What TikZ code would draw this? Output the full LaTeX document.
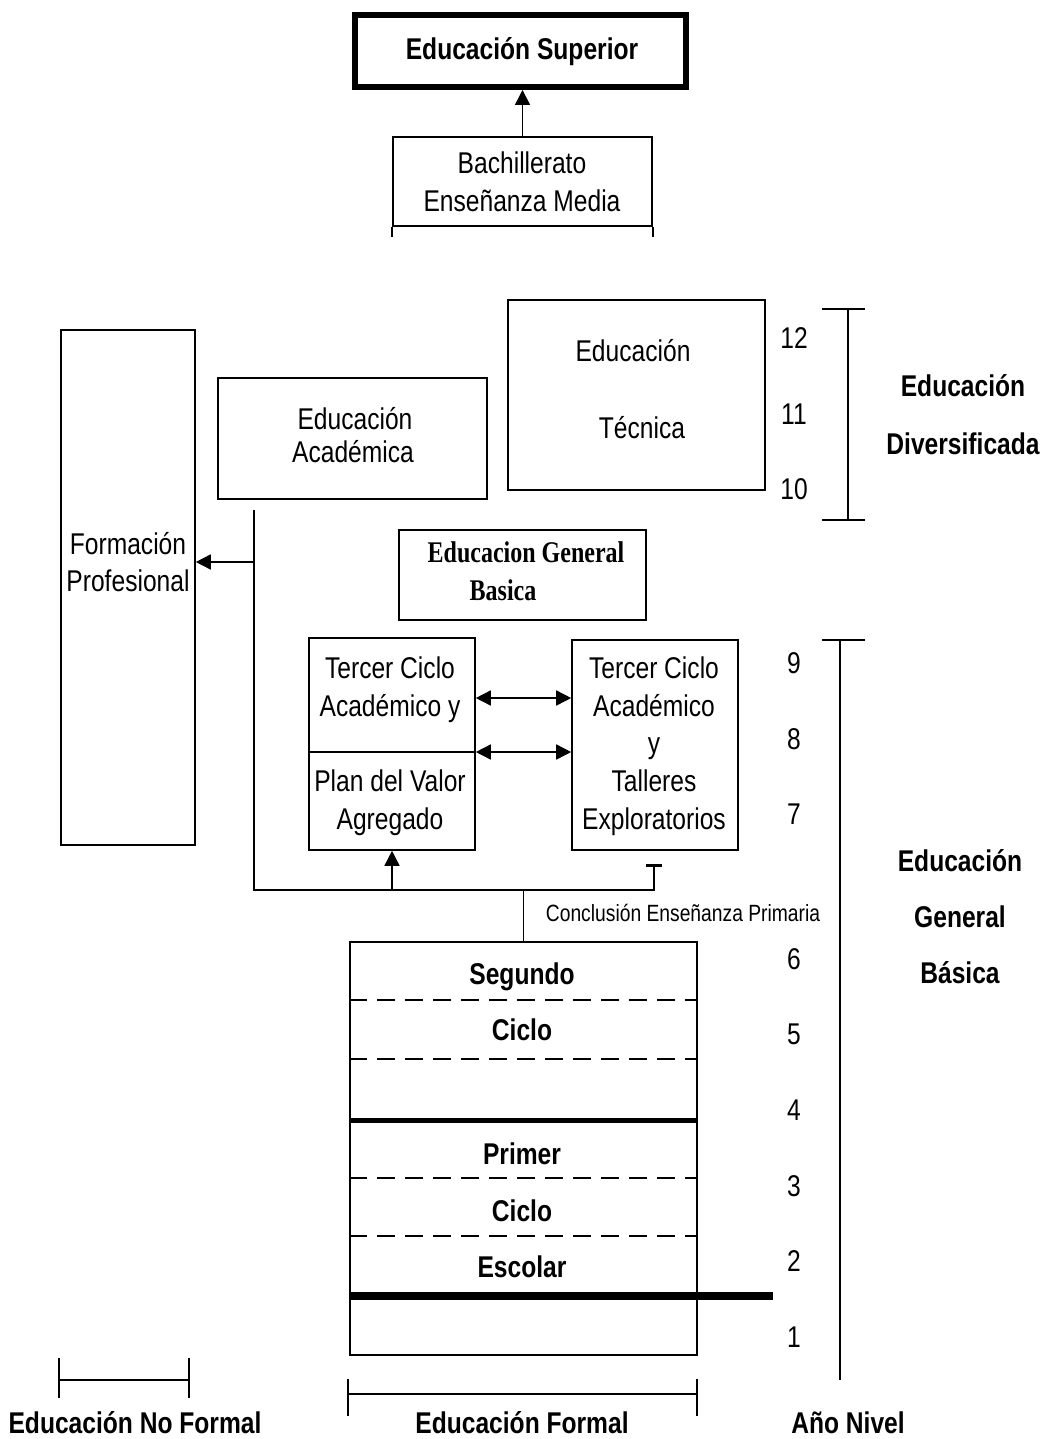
\documentclass[tikz,border=0pt]{standalone}
\usepackage{fontspec}
\setmainfont{Liberation Sans}
\newfontfamily\narrowsans[FakeStretch=0.82]{Liberation Sans}
\newfontfamily\narrowserif[FakeStretch=0.8]{Liberation Serif}
\usetikzlibrary{positioning,arrows.meta,calc}

\begin{document}
\begin{tikzpicture}[x=1pt,y=-1pt,
                box/.style={draw,line width=1.6pt,inner sep=0pt},
                lbl/.style={inner sep=0pt,text height=22pt,text depth=0pt,
                            font=\narrowsans\fontsize{30}{34}\selectfont},
                blbl/.style={lbl,font=\narrowsans\bfseries\fontsize{30}{34}\selectfont},
                slbl/.style={inner sep=0pt,text height=17pt,text depth=0pt,
                             font=\narrowsans\fontsize{23.5}{26}\selectfont},
                serlbl/.style={lbl,font=\narrowserif\bfseries\fontsize{30}{34}\selectfont},
                ln/.style={line width=1.6pt},
                arr/.style={-{Triangle[length=15pt,width=15pt]},line width=1.6pt},
                darr/.style={{Triangle[length=15pt,width=15pt]}-{Triangle[length=15pt,width=15pt]},
                             line width=1.6pt},
                dsh/.style={line width=1.6pt,dash pattern=on 18pt off 10pt}]
\useasboundingbox (0,0) rectangle (1046,1439);

% boxes
\node[box,line width=6pt,minimum width=331,minimum height=72] (sup) at (520.5,51) {};
\node[box,minimum width=259,minimum height=89] (bach) at (522.5,181.5) {};
\node[box,minimum width=257,minimum height=190] (tec) at (636.5,395) {};
\node[box,minimum width=269,minimum height=121] (aca) at (352.5,438.5) {};
\node[box,minimum width=134,minimum height=515] (fp) at (128,587.5) {};
\node[box,minimum width=247,minimum height=90] (egb) at (522.5,575) {};
\node[box,minimum width=166,minimum height=212] (tca) at (392,744) {};
\node[box,minimum width=166,minimum height=210] (tct) at (655,745) {};
\node[box,minimum width=347,minimum height=413] (prim) at (523.5,1148.5) {};

% texts
\node[blbl] (t-sup) at (522,49) {Educación Superior};
\node[lbl] (t-bach1) at (522,163) {Bachillerato};
\node[lbl] (t-bach2) at (522,201) {Enseñanza Media};
\node[lbl] (t-tec1) at (633,350) {Educación};
\node[lbl] (t-tec2) at (642,427) {Técnica};
\node[lbl] (t-aca1) at (355,418) {Educación};
\node[lbl] (t-aca2) at (353,451) {Académica};
\node[lbl] (t-fp1) at (128,543) {Formación};
\node[lbl] (t-fp2) at (128,580) {Profesional};
\node[serlbl] (t-egb1) at (526,551) {Educacion General};
\node[serlbl] (t-egb2) at (503,589) {Basica};
\node[lbl] (t-tca1) at (390,667) {Tercer Ciclo};
\node[lbl] (t-tca2) at (390,705) {Académico y};
\node[lbl] (t-tca3) at (390,780) {Plan del Valor};
\node[lbl] (t-tca4) at (390,818) {Agregado};
\node[lbl] (t-tct1) at (654,667) {Tercer Ciclo};
\node[lbl] (t-tct2) at (654,705) {Académico};
\node[lbl] (t-tct3) at (654,742) {y};
\node[lbl] (t-tct4) at (654,780) {Talleres};
\node[lbl] (t-tct5) at (654,818) {Exploratorios};
\node[slbl] (t-concl) at (683,913) {Conclusión Enseñanza Primaria};
\node[blbl] (t-seg) at (522,973) {Segundo};
\node[blbl] (t-cic2) at (522,1029) {Ciclo};
\node[blbl] (t-pri) at (522,1153) {Primer};
\node[blbl] (t-cic1) at (522,1210) {Ciclo};
\node[blbl] (t-esc) at (522,1266) {Escolar};
\node[blbl] (t-div1) at (963,385) {Educación};
\node[blbl] (t-div2) at (963,443) {Diversificada};
\node[blbl] (t-gb1) at (960,860) {Educación};
\node[blbl] (t-gb2) at (960,916) {General};
\node[blbl] (t-gb3) at (960,972) {Básica};
\node[blbl] (t-nf) at (135,1422) {Educación No Formal};
\node[blbl] (t-f) at (522,1422) {Educación Formal};
\node[blbl] (t-an) at (848,1422) {Año Nivel};

% year numbers
\foreach \yr/\yy in {12/337,11/413,10/488,9/662,8/738,7/813,
                     6/958,5/1033,4/1109,3/1185,2/1260,1/1336}
  \node[lbl] (n\yr) at (794,\yy) {\yr};

% connectors
\draw[arr] (bach.north) -- (bach.north |- sup.south);
\draw[ln] (bach.south west) -- ++(0,10);
\draw[ln] (bach.south east) -- ++(0,10);
\coordinate (ja) at (254,510);
\coordinate (jb) at (254,890);
\coordinate (jc) at (654,890);
\coordinate (jd) at (654,865);
\coordinate (jf) at (254,562);
\draw[ln] (ja) -- (jb) -- (jc) -- (jd);
\draw[line width=3pt] ($(jd)+(-8,0)$) -- ($(jd)+(8,0)$);
\draw[arr] (jf) -- (jf -| fp.east);
\draw[arr] (jb -| tca.south) -- (tca.south);
\draw[ln] (jb -| prim.north) -- (prim.north);
\draw[ln] (tca.west |- 0,752) -- (tca.east |- 0,752);
\draw[darr] (tca.east |- 0,698) -- (tct.west |- 0,698);
\draw[darr] (tca.east |- 0,752) -- (tct.west |- 0,752);

% primary cycles
\foreach \yy in {1000,1059,1178,1236}
  \draw[dsh] (prim.west |- 0,\yy) -- (prim.east |- 0,\yy);
\draw[line width=5pt] (prim.west |- 0,1120) -- (prim.east |- 0,1120);
\draw[line width=8pt] (prim.west |- 0,1296) -- (773,1296);

% brackets
\draw[ln] (848,309) -- (848,520);
\draw[ln] (822,309) -- (865,309);
\draw[ln] (822,520) -- (865,520);
\draw[ln] (840,640) -- (840,1380);
\draw[ln] (822,640) -- (865,640);
\draw[ln] (59,1380) -- (189,1380);
\draw[ln] (59,1358) -- (59,1398);
\draw[ln] (189,1358) -- (189,1398);
\draw[ln] (348,1394) -- (697,1394);
\draw[ln] (348,1379) -- (348,1416);
\draw[ln] (697,1379) -- (697,1416);
\end{tikzpicture}
\end{document}
